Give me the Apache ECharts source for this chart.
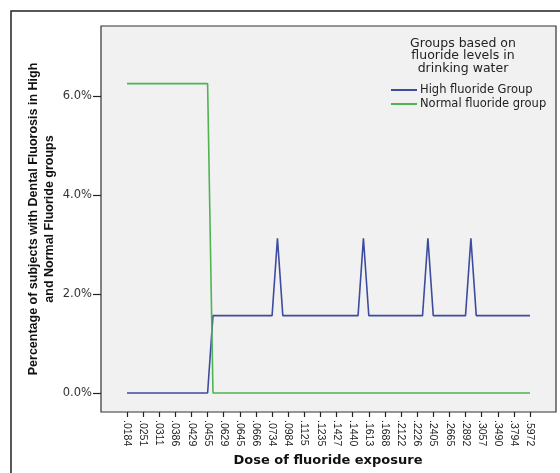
<!DOCTYPE html>
<html>
<head>
<meta charset="utf-8">
<script src="https://cdn.jsdelivr.net/npm/echarts@6/dist/echarts.min.js"></script>
<style>html,body{margin:0;padding:0;background:#fff}#c{width:560px;height:473px}</style>
</head>
<body>
<div id="c"></div>
<script>
// Tick labels shown on the x axis (every third dose category)
const tickLabels = ['.0184','.0251','.0311','.0386','.0429','.0455','.0629','.0645','.0666','.0734','.0984','.1125','.1235','.1427','.1440','.1613','.1688','.2122','.2226','.2405','.2665','.2892','.3057','.3490','.3794','.5972'];
const labelStep = 3;

// Percentage of subjects at each dose category (76 categories)
const highFluoride = [
  0,0,0,0,0,0,0,0,0,0,
  0,0,0,0,0,0,1.5625,1.5625,1.5625,1.5625,
  1.5625,1.5625,1.5625,1.5625,1.5625,1.5625,1.5625,1.5625,3.125,1.5625,
  1.5625,1.5625,1.5625,1.5625,1.5625,1.5625,1.5625,1.5625,1.5625,1.5625,
  1.5625,1.5625,1.5625,1.5625,3.125,1.5625,1.5625,1.5625,1.5625,1.5625,
  1.5625,1.5625,1.5625,1.5625,1.5625,1.5625,3.125,1.5625,1.5625,1.5625,
  1.5625,1.5625,1.5625,1.5625,3.125,1.5625,1.5625,1.5625,1.5625,1.5625,
  1.5625,1.5625,1.5625,1.5625,1.5625,1.5625
];
const normalFluoride = [
  6.25,6.25,6.25,6.25,6.25,6.25,6.25,6.25,6.25,6.25,
  6.25,6.25,6.25,6.25,6.25,6.25,0,0,0,0,
  0,0,0,0,0,0,0,0,0,0,
  0,0,0,0,0,0,0,0,0,0,
  0,0,0,0,0,0,0,0,0,0,
  0,0,0,0,0,0,0,0,0,0,
  0,0,0,0,0,0,0,0,0,0,
  0,0,0,0,0,0
];
const yTicks = [0, 2, 4, 6];
const seriesNames = ['High fluoride Group', 'Normal fluoride group'];
const legendTitle = 'Groups based on\nfluoride levels in\ndrinking water';
const xTitle = 'Dose of fluoride exposure';
const yTitle = 'Percentage of subjects with Dental Fluorosis in High\nand Normal Fluoride groups';

const xTickValues = tickLabels.map((_, i) => i * labelStep);
const toPairs = arr => arr.map((v, i) => [i, v]);

const chart = echarts.init(document.getElementById('c'), null, {renderer: 'canvas'});
chart.setOption({
  animation: false,
  backgroundColor: '#fff',
  textStyle: {fontFamily: 'DejaVu Sans'},
  grid: {
    left: 101, right: 4, top: 26, bottom: 61,
    show: true, backgroundColor: '#f1f1f1', borderColor: '#333', borderWidth: 1.2
  },
  legend: {
    orient: 'vertical',
    left: 386, top: 79,
    itemGap: 2,
    itemWidth: 26, itemHeight: 2,
    icon: 'rect',
    textStyle: {fontFamily: 'DejaVu Sans', fontSize: 11.5, color: '#222', padding: [0,0,0,-2]},
    data: seriesNames
  },
  xAxis: {
    type: 'value',
    position: 'bottom',
    min: -4.84, max: 79.84,
    axisLine: {show: false, onZero: false},
    splitLine: {show: false},
    axisTick: {show: true, inside: false, customValues: xTickValues, length: 5, lineStyle: {color: '#222', width: 1.2}},
    axisLabel: {
      customValues: xTickValues,
      rotate: -90,
      margin: 8,
      fontFamily: 'Liberation Sans', fontSize: 10.5, color: '#222',
      formatter: v => tickLabels[Math.round(v / labelStep)]
    }
  },
  yAxis: {
    type: 'value',
    position: 'left',
    min: -0.384, max: 7.414,
    axisLine: {show: false, onZero: false},
    splitLine: {show: false},
    axisTick: {show: true, inside: false, customValues: yTicks, length: 8, lineStyle: {color: '#222', width: 1.2}},
    axisLabel: {
      customValues: yTicks,
      margin: 9,
      fontFamily: 'DejaVu Sans', fontSize: 11.5, color: '#333',
      formatter: v => v.toFixed(1) + '%'
    }
  },
  series: [
    {
      name: seriesNames[0], type: 'line', data: toPairs(highFluoride),
      symbol: 'none', lineStyle: {color: '#3d4c9f', width: 1.6}, itemStyle: {color: '#3d4c9f'}
    },
    {
      name: seriesNames[1], type: 'line', data: toPairs(normalFluoride),
      symbol: 'none', lineStyle: {color: '#4fb352', width: 1.6}, itemStyle: {color: '#4fb352'}
    }
  ],
  graphic: [
    {type: 'rect', silent: true, shape: {x: 11, y: 11, width: 700, height: 700},
     style: {fill: 'none', stroke: '#222', lineWidth: 1.5}},
    {type: 'text', x: 463, y: 56, silent: true,
     style: {text: legendTitle, align: 'center', verticalAlign: 'middle',
             fontFamily: 'DejaVu Sans', fontSize: 12.5, lineHeight: 12.5, fill: '#222'}},
    {type: 'text', x: 328, y: 461, silent: true,
     style: {text: xTitle, align: 'center', verticalAlign: 'middle',
             fontFamily: 'DejaVu Sans', fontWeight: 'bold', fontSize: 13, fill: '#111'}},
    {type: 'text', x: 42, y: 219, rotation: Math.PI / 2, silent: true,
     style: {text: yTitle, align: 'center', verticalAlign: 'middle',
             fontFamily: 'Liberation Sans', fontWeight: 'bold', fontSize: 12.5, lineHeight: 16, fill: '#111'}}
  ]
});
</script>
</body>
</html>
